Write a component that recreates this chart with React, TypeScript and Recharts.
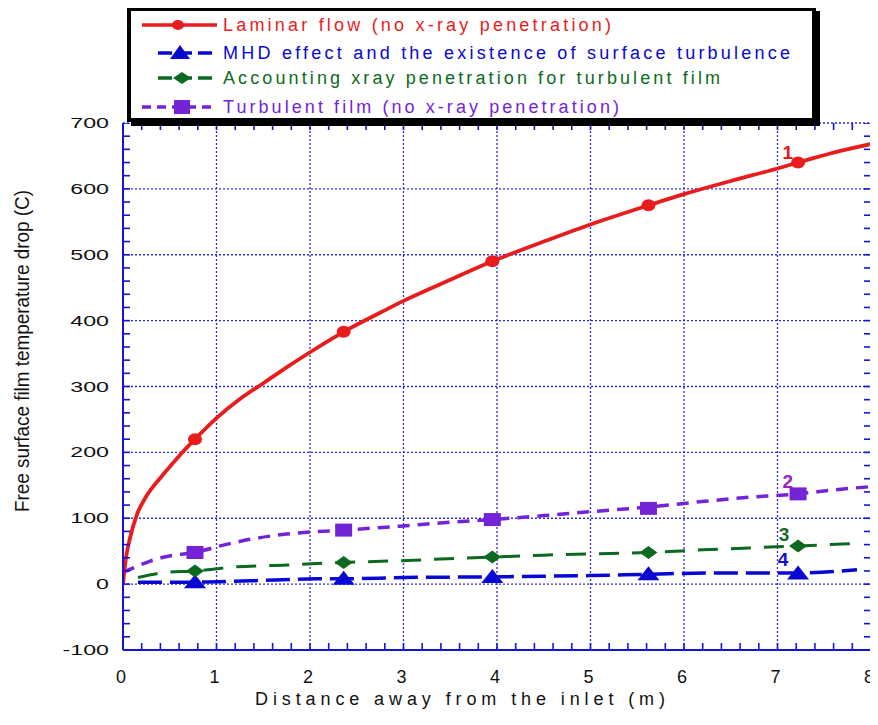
import React from 'react';
import { ComposedChart, Line, Scatter, XAxis, YAxis, CartesianGrid, Label } from 'recharts';

// ---------- data ----------
const laminarCurve: [number, number][] = [
  [0, 0], [0.03, 38], [0.075, 70], [0.15, 106], [0.235, 130], [0.41, 163], [0.5, 178], [0.61, 196],
  [0.77, 220], [1, 252], [1.25, 281], [1.5, 305], [1.75, 329], [2, 352], [2.36, 383], [2.75, 412],
  [3, 430], [3.5, 462], [3.95, 490], [4.5, 520], [5, 546], [5.62, 575], [6, 592], [6.5, 612],
  [7, 631], [7.22, 640], [7.6, 655], [8, 668],
];
const mhdCurve: [number, number][] = [
  [0.16, 3], [0.77, 3], [1.36, 5], [2.07, 8], [2.36, 8], [3, 10], [3.95, 11], [4.5, 12], [5, 13],
  [5.62, 15], [6.35, 17], [7.22, 17], [7.6, 19], [7.85, 22],
];
const xrayCurve: [number, number][] = [
  [0.16, 10], [0.47, 18], [0.77, 20], [1.18, 26], [1.75, 29], [2.36, 33], [2.85, 35], [3.4, 38],
  [3.95, 41], [4.5, 44], [5, 46], [5.62, 48], [6.2, 52], [6.7, 55], [7.22, 58], [7.9, 62],
];
const turbulentCurve: [number, number][] = [
  [0, 18], [0.15, 27], [0.29, 35], [0.47, 42], [0.77, 48], [1.04, 58], [1.36, 68], [1.75, 76],
  [2.36, 82], [2.96, 88], [3.5, 94], [3.95, 98], [4.5, 104], [5, 110], [5.62, 117], [6.1, 124],
  [6.7, 132], [7.22, 137], [7.6, 143], [8, 148],
];

const markerX = [0.77, 2.36, 3.95, 5.62, 7.22];
const laminarMarkerY = [220, 383, 490, 575, 640];
const mhdMarkerY = [3, 8, 11, 15, 16];
const xrayMarkerY = [20, 33, 41, 48, 58];
const turbulentMarkerY = [48, 82, 98, 115, 137];

const curveNumbers = [
  { x: 7.11, y: 656, text: '1', color: '#e41a1a' },
  { x: 7.11, y: 156, text: '2', color: '#9b22c8' },
  { x: 7.07, y: 76, text: '3', color: '#166b26' },
  { x: 7.06, y: 38, text: '4', color: '#1010d0' },
];

const seriesNames = [
  'Laminar flow (no x-ray penetration)',
  'MHD effect and the existence of surface turbulence',
  'Accounting xray penetration for turbulent film',
  'Turbulent film (no x-ray penetration)',
];

const xMajorTicks = [0, 1, 2, 3, 4, 5, 6, 7, 8];
const yMajorTicks = [-100, 0, 100, 200, 300, 400, 500, 600, 700];
const xMinorTicks = Array.from({ length: 41 }, (_, i) => Math.round(i * 2) / 10);
const yMinorTicks = Array.from({ length: 41 }, (_, i) => -100 + i * 20);

const xTitle = 'Distance away from the inlet (m)';
const yTitle = 'Free surface film temperature drop (C)';

// ---------- layout / styles ----------
const W = 870;
const H = 717;
const PLOT_LEFT = 115;
const PLOT_TOP = 115;
const PLOT_RIGHT = 863;
const PLOT_BOTTOM = 642;
const TICK = 7;

const RED = '#e81c1c';
const BLUE = '#0808d2';
const GREEN = '#0c6a20';
const PURPLE = '#7424d6';
const AXIS = '#1414d8';
const GRID = '#2a2ae6';
const FONT = '"Liberation Sans", Arial, sans-serif';

const toPoints = (arr: [number, number][]) => arr.map(([x, y]) => ({ x, y }));
const toMarkers = (ys: number[]) => ys.map((y, i) => ({ x: markerX[i], y }));

const laminarData = toPoints(laminarCurve);
const mhdData = toPoints(mhdCurve);
const xrayData = toPoints(xrayCurve);
const turbulentData = toPoints(turbulentCurve);

const [X_MIN, X_MAX] = [xMajorTicks[0], xMajorTicks[xMajorTicks.length - 1]];
const [Y_MIN, Y_MAX] = [yMajorTicks[0], yMajorTicks[yMajorTicks.length - 1]];
const leftTicks = yMinorTicks.map((y) => ({ x: X_MIN, y }));
const rightTicks = yMinorTicks.map((y) => ({ x: X_MAX, y }));
const bottomTicks = xMinorTicks.map((x) => ({ x, y: Y_MIN }));
const topTicks = xMinorTicks.map((x) => ({ x, y: Y_MAX }));

const labelWidth = (s: string) =>
  s.split('').reduce((w, c) => w + (c === '-' ? 7.7 : 12.9), 0);

const YTick = (props: any) => {
  const s = String(props.payload?.value);
  return (
    <text x={PLOT_LEFT - 14} y={props.y} dy="0.36em" textAnchor="end" fontSize={14}
      fontFamily={FONT} fill="#111" textLength={labelWidth(s)} lengthAdjust="spacingAndGlyphs">{s}</text>
  );
};

const XTick = (props: any) => (
  <text x={props.x - 2} y={669} dy="0.36em" textAnchor="middle" fontSize={18}
    fontFamily={FONT} fill="#111">{String(props.payload?.value)}</text>
);

const tickShape = (dx: number, dy: number) => (p: any) => (
  <line x1={p.cx} y1={p.cy} x2={p.cx + dx} y2={p.cy + dy} stroke={AXIS} strokeWidth={1.6} />
);

const circleShape = (p: any) => <ellipse cx={p.cx} cy={p.cy} rx={7} ry={6} fill={RED} />;
const triShape = (p: any) => (
  <polygon points={`${p.cx - 11},${p.cy + 6} ${p.cx + 11},${p.cy + 6} ${p.cx},${p.cy - 8}`} fill={BLUE} />
);
const diamondShape = (p: any) => (
  <polygon points={`${p.cx - 9},${p.cy} ${p.cx},${p.cy - 6.5} ${p.cx + 9},${p.cy} ${p.cx},${p.cy + 6.5}`} fill={GREEN} />
);
const squareShape = (p: any) => <rect x={p.cx - 8.5} y={p.cy - 6.5} width={17} height={13} fill={PURPLE} />;

const numberShape = (p: any) => (
  <text x={p.cx} y={p.cy} dy="0.36em" textAnchor="middle" fontSize={19} fontWeight="bold"
    fontFamily={FONT} fill={p.payload.color}>{p.payload.text}</text>
);

const LegendBox = () => {
  const rows = [
    { color: RED, y: 14, line: [11, 86], dash: undefined as string | undefined, mk: 'circle', mx: 47 },
    { color: BLUE, y: 42, line: [27, 81], dash: '14 6', mk: 'tri', mx: 49 },
    { color: GREEN, y: 67, line: [27, 81], dash: '14 6', mk: 'diamond', mx: 51 },
    { color: PURPLE, y: 96, line: [11, 86], dash: '9 6', mk: 'square', mx: 51 },
  ];
  const lengths = [388, 567, 497, 396];
  return (
    <div style={{
      position: 'absolute', left: 119, top: -1, width: 689, height: 115, boxSizing: 'border-box',
      border: '4px solid #000', boxShadow: '4px 4px 0 #000', background: '#fff',
    }}>
      <svg width={681} height={107} style={{ display: 'block' }}>
        {rows.map((r, i) => (
          <g key={i}>
            <line x1={r.line[0]} x2={r.line[1]} y1={r.y} y2={r.y} stroke={r.color} strokeWidth={3.5}
              strokeDasharray={r.dash} />
            {r.mk === 'circle' && <ellipse cx={r.mx} cy={r.y} rx={6} ry={5} fill={r.color} />}
            {r.mk === 'tri' && (
              <polygon points={`${r.mx - 10},${r.y + 6} ${r.mx + 10},${r.y + 6} ${r.mx},${r.y - 8}`} fill={r.color} />
            )}
            {r.mk === 'diamond' && (
              <polygon points={`${r.mx - 9},${r.y} ${r.mx},${r.y - 6} ${r.mx + 9},${r.y} ${r.mx},${r.y + 6}`} fill={r.color} />
            )}
            {r.mk === 'square' && <rect x={r.mx - 8} y={r.y - 7} width={16} height={14} fill={r.color} />}
            <text x={92} y={r.y} dy="0.36em" fontSize={18} fontFamily={FONT} fill={r.color}
              textLength={lengths[i]} lengthAdjust="spacing">{seriesNames[i]}</text>
          </g>
        ))}
      </svg>
    </div>
  );
};

export default function App() {
  return (
    <div style={{ position: 'relative', width: W, height: H, fontFamily: FONT }}>
      <ComposedChart width={W} height={H}
        margin={{ top: PLOT_TOP, right: W - PLOT_RIGHT, bottom: 0, left: 0 }}>
        <CartesianGrid stroke={GRID} strokeDasharray="2 2" strokeWidth={1.3}
          horizontalValues={yMajorTicks} verticalValues={xMajorTicks} />
        <XAxis dataKey="x" type="number" domain={[X_MIN, X_MAX]} ticks={xMajorTicks} interval={0}
          allowDataOverflow height={H - PLOT_BOTTOM} tickLine={false}
          axisLine={{ stroke: AXIS, strokeWidth: 2 }} tick={<XTick />}>
          <Label content={() => (
            <text x={452} y={697} textAnchor="middle" fontSize={18} fontFamily={FONT} fill="#111"
              textLength={410} lengthAdjust="spacing">{xTitle}</text>
          )} />
        </XAxis>
        <XAxis xAxisId="top" orientation="top" type="number" domain={[X_MIN, X_MAX]}
          allowDataOverflow height={0} tickLine={false} tick={false}
          axisLine={{ stroke: AXIS, strokeWidth: 2 }} />
        <YAxis type="number" domain={[Y_MIN, Y_MAX]} ticks={yMajorTicks} interval={0} allowDataOverflow
          width={PLOT_LEFT} tickLine={false}
          axisLine={{ stroke: AXIS, strokeWidth: 2 }} tick={<YTick />}>
          <Label content={() => (
            <text x={13} y={343} transform="rotate(-90 13 343)" textAnchor="middle"
              dominantBaseline="central" fontSize={21} fontFamily={FONT} fill="#111"
              textLength={322} lengthAdjust="spacingAndGlyphs">{yTitle}</text>
          )} />
        </YAxis>
        <YAxis yAxisId="right" orientation="right" type="number" domain={[Y_MIN, Y_MAX]}
          allowDataOverflow width={0} tickLine={false} tick={false}
          axisLine={{ stroke: AXIS, strokeWidth: 2 }} />

        <Scatter data={leftTicks} dataKey="y" shape={tickShape(TICK, 0)} isAnimationActive={false} />
        <Scatter data={rightTicks} dataKey="y" shape={tickShape(-TICK, 0)} isAnimationActive={false} />
        <Scatter data={bottomTicks} dataKey="y" shape={tickShape(0, -TICK)} isAnimationActive={false} />
        <Scatter data={topTicks} dataKey="y" shape={tickShape(0, TICK)} isAnimationActive={false} />

        <Line data={mhdData} dataKey="y" type="monotone" stroke={BLUE} strokeWidth={3.5}
          strokeDasharray="24 8" dot={false} activeDot={false} isAnimationActive={false} />
        <Line data={xrayData} dataKey="y" type="monotone" stroke={GREEN} strokeWidth={3}
          strokeDasharray="20 13" dot={false} activeDot={false} isAnimationActive={false} />
        <Line data={turbulentData} dataKey="y" type="monotone" stroke={PURPLE} strokeWidth={3.5}
          strokeDasharray="12 8" dot={false} activeDot={false} isAnimationActive={false} />
        <Line data={laminarData} dataKey="y" type="monotone" stroke={RED} strokeWidth={3.8}
          dot={false} activeDot={false} isAnimationActive={false} />

        <Scatter data={toMarkers(mhdMarkerY)} dataKey="y" shape={triShape} isAnimationActive={false} />
        <Scatter data={toMarkers(xrayMarkerY)} dataKey="y" shape={diamondShape} isAnimationActive={false} />
        <Scatter data={toMarkers(turbulentMarkerY)} dataKey="y" shape={squareShape} isAnimationActive={false} />
        <Scatter data={toMarkers(laminarMarkerY)} dataKey="y" shape={circleShape} isAnimationActive={false} />
        <Scatter data={curveNumbers} dataKey="y" shape={numberShape} isAnimationActive={false} />
      </ComposedChart>
      <LegendBox />
    </div>
  );
}
